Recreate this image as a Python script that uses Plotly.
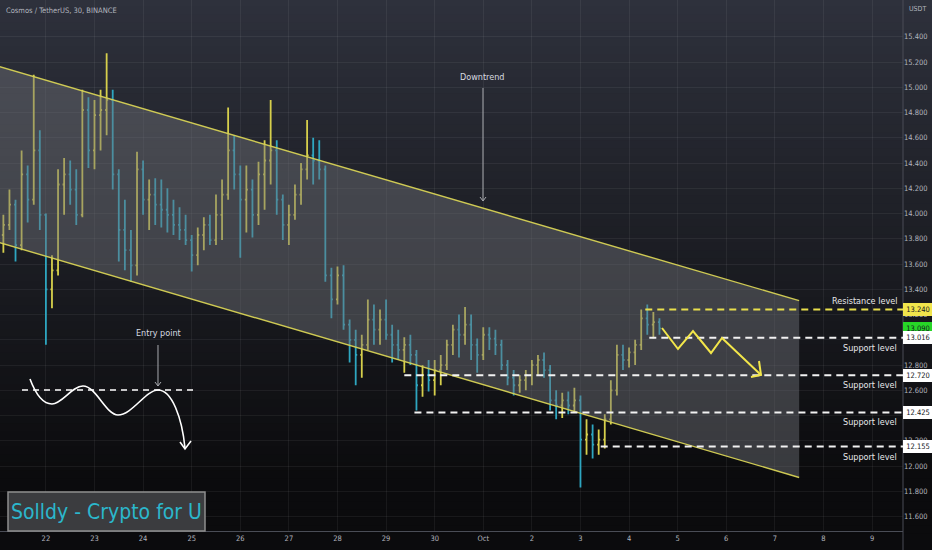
import plotly.graph_objects as go
import pandas as pd

# ---------------- data ----------------
candle_start = "2022-09-21 03:00"
candle_step = "3h"

opens = [
    13.83, 13.91, 14.07, 13.75, 14.31, 14.11, 14.50, 13.99, 13.40, 13.55,
    14.23, 14.31, 14.19, 13.99, 14.82, 14.50, 14.78, 14.82, 14.90, 14.31,
    13.87, 13.71, 13.59, 14.35, 14.11, 14.15, 14.07, 14.03, 13.99, 13.91,
    13.87, 13.79, 13.67, 13.83, 13.91, 13.79, 13.99, 14.15, 14.50, 14.31,
    14.11, 14.19, 13.99, 14.31, 14.42, 14.50, 14.11, 13.91, 13.99, 14.15,
    14.35, 14.46, 14.42, 14.35, 13.51, 13.32, 13.51, 13.12, 13.00, 12.88,
    12.96, 13.16, 13.08, 13.16, 13.04, 12.96, 12.92, 12.96, 12.88, 12.64,
    12.72, 12.68, 12.76, 12.80, 12.96, 13.08, 13.04, 13.12, 12.96, 12.88,
    13.04, 13.01, 12.96, 12.80, 12.70, 12.64, 12.68, 12.72, 12.80, 12.84,
    12.76, 12.52, 12.48, 12.52, 12.48, 12.52, 12.21, 12.25, 12.17, 12.21,
    12.37, 12.60, 12.88, 12.84, 12.90, 12.96, 13.17, 13.12, 13.14,
]
highs = [
    13.99, 14.19, 14.11, 14.50, 14.38, 15.10, 14.66, 14.00, 13.67, 14.35,
    14.44, 14.42, 14.35, 14.98, 14.92, 14.90, 14.98, 15.27, 14.98, 14.35,
    14.11, 13.87, 14.49, 14.42, 14.27, 14.28, 14.27, 14.20, 14.11, 14.05,
    13.99, 13.83, 13.89, 13.97, 13.99, 14.15, 14.27, 14.84, 14.62, 14.38,
    14.38, 14.27, 14.41, 14.58, 14.90, 14.58, 14.15, 14.07, 14.23, 14.40,
    14.74, 14.60, 14.58, 14.38, 13.57, 13.58, 13.59, 13.16, 13.08, 13.04,
    13.32, 13.28, 13.24, 13.32, 13.12, 13.08, 13.02, 13.04, 12.92, 12.80,
    12.84, 12.84, 12.88, 13.00, 13.12, 13.20, 13.26, 13.20, 13.01, 13.10,
    13.10, 13.08, 13.00, 12.84, 12.76, 12.72, 12.76, 12.84, 12.88, 12.90,
    12.80, 12.60, 12.58, 12.59, 12.62, 12.56, 12.37, 12.33, 12.29, 12.41,
    12.68, 12.96, 12.96, 12.94, 13.00, 13.24, 13.28, 13.22, 13.17,
]
lows = [
    13.69, 13.87, 13.62, 13.71, 13.93, 14.07, 13.87, 12.96, 13.25, 13.51,
    13.99, 14.07, 13.91, 13.97, 14.36, 14.35, 14.50, 14.62, 14.19, 13.62,
    13.55, 13.46, 13.51, 13.99, 13.87, 13.91, 13.89, 13.85, 13.83, 13.79,
    13.75, 13.54, 13.59, 13.71, 13.75, 13.75, 13.79, 14.11, 14.19, 13.65,
    13.85, 13.81, 13.91, 14.03, 14.23, 13.99, 13.79, 13.75, 13.95, 14.07,
    14.27, 14.23, 14.27, 13.46, 13.17, 13.28, 13.08, 12.82, 12.64, 12.70,
    12.92, 12.96, 12.96, 13.00, 12.82, 12.84, 12.74, 12.80, 12.44, 12.55,
    12.59, 12.56, 12.64, 12.76, 12.88, 12.86, 12.96, 12.84, 12.74, 12.84,
    12.92, 12.88, 12.76, 12.64, 12.56, 12.58, 12.60, 12.64, 12.72, 12.70,
    12.44, 12.37, 12.38, 12.41, 12.43, 11.83, 12.09, 12.06, 12.09, 12.14,
    12.33, 12.56, 12.76, 12.78, 12.80, 12.92, 13.04, 13.01, 13.04,
]
closes = [
    13.91, 14.07, 13.75, 14.31, 14.11, 14.50, 13.99, 13.40, 13.55, 14.23,
    14.31, 14.19, 13.99, 14.82, 14.50, 14.78, 14.82, 14.90, 14.31, 13.87,
    13.71, 13.59, 14.35, 14.11, 14.15, 14.07, 14.03, 13.99, 13.91, 13.87,
    13.79, 13.67, 13.83, 13.91, 13.79, 13.99, 14.15, 14.50, 14.31, 14.11,
    14.19, 13.99, 14.31, 14.42, 14.50, 14.11, 13.91, 13.99, 14.15, 14.35,
    14.46, 14.42, 14.35, 13.51, 13.32, 13.51, 13.12, 13.00, 12.88, 12.96,
    13.16, 13.08, 13.16, 13.04, 12.96, 12.92, 12.96, 12.88, 12.64, 12.72,
    12.68, 12.76, 12.80, 12.96, 13.08, 13.04, 13.12, 12.96, 12.88, 13.04,
    13.01, 12.96, 12.80, 12.70, 12.64, 12.68, 12.72, 12.80, 12.84, 12.76,
    12.52, 12.48, 12.52, 12.48, 12.52, 12.21, 12.25, 12.17, 12.21, 12.37,
    12.60, 12.88, 12.84, 12.90, 12.96, 13.17, 13.12, 13.14, 13.09,
]

channel_dates = ["2022-09-21 00:00", "2022-10-07 12:00"]
channel_upper = [15.168, 13.31]
channel_lower = [13.775, 11.91]

level_names = ["Resistance level", "Support level", "Support level",
               "Support level", "Support level"]
level_values = [13.240, 13.016, 12.720, 12.425, 12.155]
level_starts = ["2022-10-04 08:00", "2022-10-04 10:00", "2022-09-29 09:00",
                "2022-09-29 14:00", "2022-10-03 10:00"]
last_price = 13.090

price_ticks = [11.6, 11.8, 12.0, 12.2, 12.4, 12.6, 12.8, 13.0, 13.2, 13.4,
               13.6, 13.8, 14.0, 14.2, 14.4, 14.6, 14.8, 15.0, 15.2, 15.4]
hidden_price_ticks = [12.4, 13.0]      # fully covered by price boxes in the reference
date_ticks = ["2022-09-22", "2022-09-23", "2022-09-24", "2022-09-25", "2022-09-26",
              "2022-09-27", "2022-09-28", "2022-09-29", "2022-09-30", "2022-10-01",
              "2022-10-02", "2022-10-03", "2022-10-04", "2022-10-05", "2022-10-06",
              "2022-10-07", "2022-10-08", "2022-10-09"]
date_labels = ["22", "23", "24", "25", "26", "27", "28", "29", "30", "Oct",
               "2", "3", "4", "5", "6", "7", "8", "9"]

times = pd.date_range(candle_start, periods=len(closes), freq=candle_step)

# ---------------- style ----------------
FONT = "DejaVu Sans Condensed, Roboto, sans-serif"
W, H = 932, 550
PW, PH = 903, 531           # plot area in pixels
X_RANGE = ["2022-09-21 01:20", "2022-10-09 15:17"]
Y_RANGE = [11.486, 15.691]
TXT = "#b2b5be"
GRID = "rgba(255,255,255,0.06)"
AXIS = "#4a4d56"
YEL = "#d6cf4c"
CYAN = "#2ea6c0"


def px(x):
    return x / PW


def py(y):
    return 1 - y / PH


def pt(x, y):
    return f"{px(x):.5f},{py(y):.5f}"


fig = go.Figure()

# channel
fig.add_trace(go.Scatter(
    x=channel_dates + channel_dates[::-1],
    y=channel_upper + channel_lower[::-1],
    fill="toself", fillcolor="rgba(112,114,120,0.46)",
    mode="lines", line=dict(width=0), hoverinfo="skip"))
for edge in (channel_upper, channel_lower):
    fig.add_trace(go.Scatter(x=channel_dates, y=edge, mode="lines",
                             line=dict(color="rgba(215,210,85,0.95)", width=1.4),
                             hoverinfo="skip"))

# candles
fig.add_trace(go.Ohlc(
    x=times, open=opens, high=highs, low=lows, close=closes,
    increasing=dict(line=dict(color=YEL, width=1.8)),
    decreasing=dict(line=dict(color=CYAN, width=1.8)),
    tickwidth=0.25, hoverinfo="skip"))

shapes = []
# background gradient
fig_bottom = -(H - PH) / PH
N = 70
top_c, bot_c = (46, 49, 60), (11, 11, 13)
for i in range(N):
    y_hi = 1 - i * (1 - fig_bottom) / N
    y_lo = 1 - (i + 1) * (1 - fig_bottom) / N
    ypix = (1 - (y_hi + y_lo) / 2) * PH
    t = min(ypix / 480, 1)
    c = tuple(round(top_c[j] + (bot_c[j] - top_c[j]) * t) for j in range(3))
    shapes.append(dict(type="rect", xref="paper", yref="paper", x0=0, x1=W / PW,
                       y0=y_lo - 0.002, y1=y_hi + 0.002,
                       fillcolor=f"rgb{c}", line_width=0, layer="below"))

# axis separator extending over the date labels
shapes.append(dict(type="line", xref="paper", yref="paper", x0=1, x1=1,
                   y0=fig_bottom, y1=1, line=dict(color=AXIS, width=1)))

# horizontal level lines
for name, val, start in zip(level_names, level_values, level_starts):
    col = "#e9df4c" if name.startswith("Resistance") else "#f2f2f2"
    shapes.append(dict(type="line", xref="x", yref="y", x0=start, x1=X_RANGE[1],
                       y0=val, y1=val, line=dict(color=col, width=2, dash="7px,5px"),
                       layer="above"))

# Entry-point sketch (wave)
wave = ("M" + pt(30, 379) + " C" + pt(36, 395) + " " + pt(44, 404) + " " + pt(52, 404)
        + " C" + pt(62, 404) + " " + pt(72, 386) + " " + pt(83, 386)
        + " C" + pt(96, 386) + " " + pt(106, 415) + " " + pt(118, 415)
        + " C" + pt(132, 415) + " " + pt(146, 390) + " " + pt(158, 390)
        + " C" + pt(172, 390) + " " + pt(182, 418) + " " + pt(185, 448))
shapes.append(dict(type="path", xref="paper", yref="paper", path=wave,
                   line=dict(color="white", width=1.6)))
shapes.append(dict(type="path", xref="paper", yref="paper",
                   path="M" + pt(180, 442) + " L" + pt(185, 449) + " L" + pt(191, 441),
                   line=dict(color="white", width=1.6)))
shapes.append(dict(type="line", xref="paper", yref="paper", x0=px(22), x1=px(198),
                   y0=py(390), y1=py(390), line=dict(color="white", width=1.6, dash="6px,5px")))

# thin arrows for labels
for (x, y0, y1) in [(158, 345, 386), (483, 88, 201)]:
    shapes.append(dict(type="path", xref="paper", yref="paper",
                       path="M" + pt(x, y0) + " L" + pt(x, y1)
                       + " M" + pt(x - 3, y1 - 4) + " L" + pt(x, y1) + " L" + pt(x + 3, y1 - 4),
                       line=dict(color="#a8aab0", width=1)))

# yellow projected zigzag
zig = ("M" + pt(662, 328) + " L" + pt(678, 349) + " L" + pt(693, 331) + " L" + pt(711, 353)
       + " L" + pt(722, 338) + " L" + pt(761, 375))
shapes.append(dict(type="path", xref="paper", yref="paper", path=zig,
                   line=dict(color="#f2e64a", width=2)))
shapes.append(dict(type="path", xref="paper", yref="paper",
                   path="M" + pt(751, 377) + " L" + pt(761, 375) + " L" + pt(759, 361),
                   line=dict(color="#f2e64a", width=2)))

# signature box
shapes.append(dict(type="rect", xref="paper", yref="paper", x0=px(8), x1=px(205),
                   y0=py(531), y1=py(492), fillcolor="#3b3c3f",
                   line=dict(color="#8e8e8e", width=1.5), layer="above"))

annotations = []
annotations.append(dict(xref="paper", yref="paper", x=px(4), y=py(11), xanchor="left",
                        yanchor="middle", showarrow=False,
                        text="Cosmos / TetherUS, 30, BINANCE",
                        font=dict(family=FONT, size=7.5, color=TXT)))
annotations.append(dict(xref="paper", yref="paper", x=px(907), y=py(9), xanchor="left",
                        yanchor="middle", showarrow=False, text="USDT",
                        font=dict(family=FONT, size=7, color=TXT)))
annotations.append(dict(xref="paper", yref="paper", x=px(483), y=py(77), xanchor="center",
                        yanchor="middle", showarrow=False, text="Downtrend",
                        font=dict(family=FONT, size=9, color="#d8dae0")))
annotations.append(dict(xref="paper", yref="paper", x=px(158), y=py(333), xanchor="center",
                        yanchor="middle", showarrow=False, text="Entry point",
                        font=dict(family=FONT, size=9, color="#d8dae0")))
annotations.append(dict(xref="paper", yref="paper", x=px(106.5), y=py(511.5), xanchor="center",
                        yanchor="middle", showarrow=False, text="Solldy - Crypto for U",
                        font=dict(family=FONT, size=21, color="#2bb7cc")))

for name, val in zip(level_names, level_values):
    up = name.startswith("Resistance")
    annotations.append(dict(xref="paper", yref="y", x=px(899), y=val, xanchor="right",
                            yanchor="middle", yshift=9 if up else -10, showarrow=False,
                            text=name, font=dict(family=FONT, size=9, color="#e6e7ea")))

box_vals = [last_price] + level_values
box_cols = ["#27d627"] + ["#f1e54c"] + ["#ffffff"] * 4
for val, col in zip(box_vals, box_cols):
    annotations.append(dict(xref="paper", yref="y", x=1, y=val, xanchor="left",
                            yanchor="middle", xshift=0, showarrow=False,
                            text=f"{val:.3f}", bgcolor=col, bordercolor=col,
                            borderpad=0, width=28, height=11,
                            font=dict(family=FONT, size=7.5, color="#131722")))

fig.update_layout(
    width=W, height=H,
    margin=dict(l=0, r=W - PW, t=0, b=H - PH),
    paper_bgcolor="#0b0b0d", plot_bgcolor="rgba(0,0,0,0)",
    showlegend=False, hovermode=False, dragmode=False,
    shapes=shapes, annotations=annotations,
    xaxis=dict(type="date", range=X_RANGE, rangeslider=dict(visible=False),
               tickvals=date_ticks, ticktext=date_labels, showgrid=True,
               gridcolor=GRID, gridwidth=1, zeroline=False, showline=True,
               linecolor=AXIS, ticks="", tickfont=dict(family=FONT, size=7.5, color=TXT)),
    yaxis=dict(side="right", range=Y_RANGE, tickvals=price_ticks,
               ticktext=["" if v in hidden_price_ticks else f"{v:.3f}" for v in price_ticks],
               showgrid=True, gridcolor=GRID, gridwidth=1, zeroline=False, showline=False,
               ticks="", tickfont=dict(family=FONT, size=7.5, color=TXT)),
)

fig.write_html("out.html", config=dict(displayModeBar=False, staticPlot=True),
               post_script="document.body.style.margin='0px';document.body.style.overflow='hidden';")
